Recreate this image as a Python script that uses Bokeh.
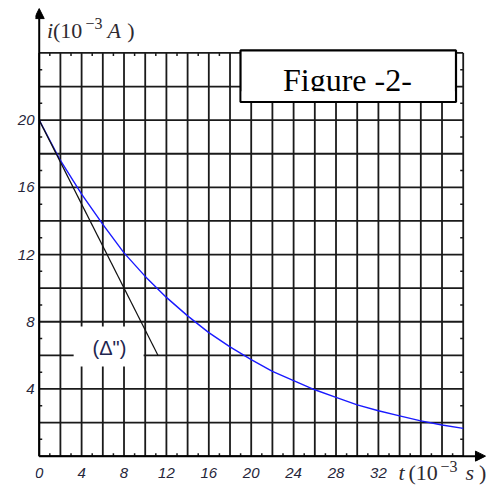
import numpy as np
from bokeh.plotting import figure
from bokeh.models import FixedTicker, Arrow, NormalHead, Label, LinearAxis
from bokeh.core.properties import value
from bokeh.embed import file_html
from bokeh.resources import INLINE

# Discharge current i (mA) against time t (ms)
t_ms = [0, 2, 4, 6, 8, 10, 12, 14, 16, 18, 20, 22, 24, 26, 28, 30, 32, 34, 36, 38, 40]
i_ma = [20.0, 17.6, 15.6, 13.8, 12.1, 10.7, 9.45, 8.35, 7.35, 6.5, 5.75,
        5.05, 4.5, 3.95, 3.5, 3.05, 2.7, 2.4, 2.1, 1.85, 1.65]

# Tangent (Δ") at the origin
tangent_t = [0.0, 11.2]
tangent_i = [20.0, 6.0]

x_tick_labels = [0, 4, 8, 12, 16, 20, 24, 28, 32]
y_tick_labels = [4, 8, 12, 16, 20]

X_MAX, Y_MAX = 40, 24          # extent of the squared paper
SX, SY = 10.6, 16.8            # pixels per unit
FW, FH = 459, 483
x_lo = -0.35
y_hi = 26.8833

p = figure(frame_width=FW, frame_height=FH,
           x_range=(x_lo, x_lo + FW / SX), y_range=(y_hi - FH / SY, y_hi),
           min_border_left=35, min_border_right=3, min_border_top=4, min_border_bottom=0,
           output_backend="svg", toolbar_location=None,
           x_axis_type=None, y_axis_type=None)
p.outline_line_color = None
p.background_fill_color = "white"
p.border_fill_color = "white"

tick_color = "#26263a"
ya = LinearAxis(ticker=FixedTicker(ticks=y_tick_labels), major_label_standoff=1,
                axis_line_color=None, major_tick_line_color=None, minor_tick_line_color=None,
                major_tick_in=0, major_tick_out=0, minor_tick_in=0, minor_tick_out=0,
                major_label_text_font="Liberation Sans", major_label_text_font_style="italic",
                major_label_text_font_size="15px", major_label_text_color=tick_color)
p.add_layout(ya, "left")

# tick numbers along the time axis
p.text(x=x_tick_labels, y=-0.98, text=[str(v) for v in x_tick_labels],
       text_font=value("Liberation Sans"), text_font_style="italic",
       text_font_size="15px", text_color=tick_color, text_align="center",
       text_baseline="alphabetic")

# squared paper: a line every 2 units
xg = np.arange(0, X_MAX + 1, 2)
yg = np.arange(0, Y_MAX + 1, 2)
grid_col = "#1a1a1a"
p.segment(x0=xg, y0=0, x1=xg, y1=Y_MAX, line_color=grid_col, line_width=1.8)
p.segment(x0=0, y0=yg, x1=X_MAX, y1=yg, line_color=grid_col, line_width=1.8)

# small inward ticks at the odd values on the four edges
dx, dy = 3 / SX, 3 / SY
xo = np.arange(1, X_MAX, 2)
yo = np.arange(1, Y_MAX, 2)
p.segment(x0=xo, y0=0, x1=xo, y1=dy, line_color=grid_col, line_width=1.5)
p.segment(x0=xo, y0=Y_MAX, x1=xo, y1=Y_MAX - dy, line_color=grid_col, line_width=1.5)
p.segment(x0=0, y0=yo, x1=dx, y1=yo, line_color=grid_col, line_width=1.5)
p.segment(x0=X_MAX, y0=yo, x1=X_MAX - dx, y1=yo, line_color=grid_col, line_width=1.5)

# white patch behind the tangent's name
p.quad(left=3.25, right=9.85, bottom=5.34, top=7.72, fill_color="white", line_color=None)

p.line(t_ms, i_ma, line_color="#1a1aff", line_width=1.4)
p.line(tangent_t, tangent_i, line_color="#111111", line_width=1.2)

p.text(x=[6.63], y=[6.41], text=['(Δ")'], text_font=value("Liberation Sans"),
       text_font_size="20px", text_color="#1f2650", text_align="center",
       text_baseline="middle")

# caption box
p.quad(left=18.99, right=39.32, bottom=21.08, top=24.15, fill_color="white",
       line_color="black", line_width=2.2)
p.text(x=[29.08], y=[22.41], text=["Figure -2-"], text_font=value("Liberation Serif"),
       text_font_size="32px", text_color="black", text_align="center",
       text_baseline="alphabetic")
p.quad(left=19.1, right=39.2, bottom=21.16, top=21.72, fill_color="white", line_color=None)

# axes with arrow heads
p.add_layout(Arrow(end=NormalHead(size=10, fill_color="black", line_color="black"),
                   x_start=0, y_start=0, x_end=0, y_end=26.64,
                   line_color="black", line_width=2))
p.add_layout(Arrow(end=NormalHead(size=10, fill_color="black", line_color="black"),
                   x_start=0, y_start=0, x_end=42.1, y_end=0,
                   line_color="black", line_width=2))

# axis names written as  i(10⁻³A)  and  t(10⁻³s)
title_col = "#2e2a30"
def name(pieces, y_base, y_sup):
    for txt, x, style, sup in pieces:
        p.add_layout(Label(x=x, y=y_sup if sup else y_base, text=txt,
                           text_font="Liberation Serif", text_font_style=style,
                           text_font_size="16px" if sup else "22px",
                           text_color=title_col, text_baseline="alphabetic",
                           text_align="left"))

name([("i", 0.74, "italic", False), ("(10", 1.29, "normal", False),
      ("−3", 4.37, "normal", True), ("A", 6.45, "italic", False),
      (")", 8.3, "normal", False)], 25.36, 25.77)
name([("t", 33.89, "italic", False), ("(10", 34.84, "normal", False),
      ("−3", 37.86, "normal", True), ("s", 40.22, "italic", False),
      (")", 41.5, "normal", False)], -0.95, -0.59)

open("out.html", "w").write(file_html(p, INLINE))
